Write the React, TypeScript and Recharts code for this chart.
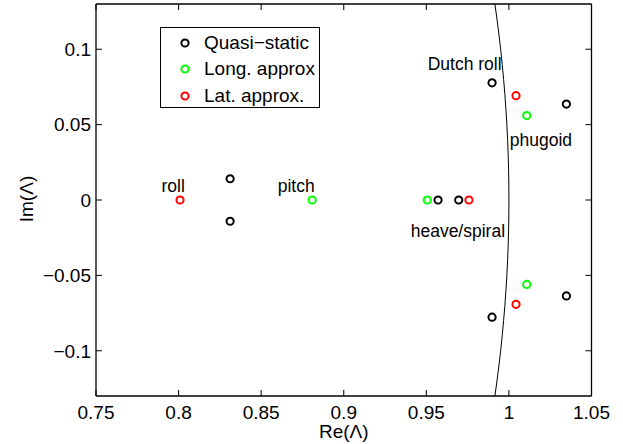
import React from 'react';
import { ScatterChart, Scatter, XAxis, YAxis, Legend, Label } from 'recharts';

// Eigenvalue data (Re, Im)
const quasiStatic = [
  { x: 0.9898, y: 0.0777 },
  { x: 0.9898, y: -0.0777 },
  { x: 1.0348, y: 0.0636 },
  { x: 1.0348, y: -0.0636 },
  { x: 0.8312, y: 0.0141 },
  { x: 0.8312, y: -0.0141 },
  { x: 0.9571, y: 0 },
  { x: 0.9696, y: 0 },
];
const longApprox = [
  { x: 1.0108, y: 0.0560 },
  { x: 1.0108, y: -0.0560 },
  { x: 0.8809, y: 0 },
  { x: 0.9506, y: 0 },
];
const latApprox = [
  { x: 0.8009, y: 0 },
  { x: 0.9758, y: 0 },
  { x: 1.0043, y: 0.0692 },
  { x: 1.0043, y: -0.0692 },
];
// unit circle arc
const unitArc = [
  { x: 0.99151, y: -0.13 }, { x: 0.99277, y: -0.12 }, { x: 0.99393, y: -0.11 },
  { x: 0.99499, y: -0.10 }, { x: 0.99594, y: -0.09 }, { x: 0.99679, y: -0.08 },
  { x: 0.99755, y: -0.07 }, { x: 0.9982, y: -0.06 }, { x: 0.99875, y: -0.05 },
  { x: 0.9992, y: -0.04 }, { x: 0.99955, y: -0.03 }, { x: 0.9998, y: -0.02 },
  { x: 0.99995, y: -0.01 }, { x: 1.0, y: 0 }, { x: 0.99995, y: 0.01 },
  { x: 0.9998, y: 0.02 }, { x: 0.99955, y: 0.03 }, { x: 0.9992, y: 0.04 },
  { x: 0.99875, y: 0.05 }, { x: 0.9982, y: 0.06 }, { x: 0.99755, y: 0.07 },
  { x: 0.99679, y: 0.08 }, { x: 0.99594, y: 0.09 }, { x: 0.99499, y: 0.10 },
  { x: 0.99393, y: 0.11 }, { x: 0.99277, y: 0.12 }, { x: 0.99151, y: 0.13 },
];
const annotations = [
  { x: 0.7967, y: 0.0055, label: 'roll' },
  { x: 0.8712, y: 0.0053, label: 'pitch' },
  { x: 0.9732, y: 0.0861, label: 'Dutch roll' },
  { x: 1.0194, y: 0.036, label: 'phugoid' },
  { x: 0.9691, y: -0.0243, label: 'heave/spiral' },
];
const xTicks = [0.75, 0.8, 0.85, 0.9, 0.95, 1, 1.05];
const yTicks = [-0.1, -0.05, 0, 0.05, 0.1];
const legendItems = [
  { name: 'Quasi\u2212static', color: '#000000' },
  { name: 'Long. approx', color: '#00ff00' },
  { name: 'Lat. approx.', color: '#ff0000' },
];

const FONT = '"Liberation Sans", Arial, Helvetica, sans-serif';
const TICK_LEN = 6;
const X_MARGIN = 10;
const Y_MARGIN = 6;

const ring = (color: string) => (props: any) => (
  <circle cx={props.cx} cy={props.cy} r={3.6} fill="none" stroke={color} strokeWidth={2} />
);

const noShape = () => <g />;

const textShape = (props: any) => (
  <text x={props.cx} y={props.cy} textAnchor="middle" fontFamily={FONT} fontSize={17.5} fill="#000">
    {props.payload.label}
  </text>
);

const fmt = (v: number) => String(v).replace('-', '\u2212');

const BottomTick = (props: any) => {
  const { x, y, payload } = props;
  const axisY = y - X_MARGIN;
  return (
    <g>
      <line x1={x} x2={x} y1={axisY} y2={axisY - TICK_LEN} stroke="#000" strokeWidth={1} />
      <text x={x} y={axisY + 22.8} textAnchor="middle" fontFamily={FONT} fontSize={19} fill="#000">
        {fmt(payload.value)}
      </text>
    </g>
  );
};

const TopTick = (props: any) => {
  const { x, y } = props;
  return <line x1={x} x2={x} y1={y} y2={y + TICK_LEN} stroke="#000" strokeWidth={1} />;
};

const LeftTick = (props: any) => {
  const { x, y, payload } = props;
  const axisX = x + Y_MARGIN;
  return (
    <g>
      <line x1={axisX} x2={axisX + TICK_LEN} y1={y} y2={y} stroke="#000" strokeWidth={1} />
      <text x={axisX - 5} y={y + 6.8} textAnchor="end" fontFamily={FONT} fontSize={19} fill="#000">
        {fmt(payload.value)}
      </text>
    </g>
  );
};

const RightTick = (props: any) => {
  const { x, y } = props;
  return <line x1={x} x2={x - TICK_LEN} y1={y} y2={y} stroke="#000" strokeWidth={1} />;
};

const renderLegend = () => (
  <div
    style={{
      width: 160,
      height: 81,
      border: '1.3px solid #000',
      background: '#fff',
      position: 'relative',
      fontFamily: FONT,
      fontSize: 19,
      color: '#000',
      boxSizing: 'border-box',
    }}
  >
    {legendItems.map((it, i) => (
      <div key={it.name} style={{ position: 'absolute', left: 0, top: 4 + i * 26.3, height: 22, width: 160 }}>
        <svg width={40} height={22} style={{ position: 'absolute', left: 0, top: 0 }}>
          <circle cx={24} cy={11} r={3.6} fill="none" stroke={it.color} strokeWidth={2} />
        </svg>
        <span style={{ position: 'absolute', left: 43, top: 0, lineHeight: '22px', whiteSpace: 'nowrap' }}>
          {it.name}
        </span>
      </div>
    ))}
  </div>
);

const yLabel = (props: any) => {
  const vb = props.viewBox;
  const x = vb.x + 33;
  const y = vb.y + vb.height / 2 - 1;
  return (
    <text x={x} y={y} transform={`rotate(-90, ${x}, ${y})`} textAnchor="middle" fontFamily={FONT} fontSize={19} fill="#000">
      Im(Λ)
    </text>
  );
};

export default function App() {
  return (
    <div style={{ position: 'absolute', left: 0, top: 0, background: '#fff' }}>
      <ScatterChart width={623} height={444} margin={{ top: 3, right: 30.5, bottom: 0, left: 0 }}>
        <XAxis
          xAxisId={0}
          type="number"
          dataKey="x"
          domain={[0.75, 1.05]}
          ticks={xTicks}
          allowDataOverflow
          height={48}
          tickSize={0}
          tickMargin={X_MARGIN}
          interval={0}
          stroke="#000"
          strokeWidth={1.3}
          tickLine={false}
          tick={BottomTick}
        >
          <Label value="Re(Λ)" position="insideBottom" offset={6} fill="#000" fontSize={19} fontFamily={FONT} />
        </XAxis>
        <XAxis
          xAxisId="top"
          orientation="top"
          type="number"
          dataKey="x"
          domain={[0.75, 1.05]}
          ticks={xTicks}
          allowDataOverflow
          height={1}
          tickSize={0}
          tickMargin={0}
          interval={0}
          stroke="#000"
          strokeWidth={1.3}
          tickLine={false}
          tick={TopTick}
        />
        <YAxis
          yAxisId={0}
          type="number"
          dataKey="y"
          domain={[-0.13, 0.13]}
          ticks={yTicks}
          allowDataOverflow
          width={96}
          tickSize={0}
          tickMargin={Y_MARGIN}
          interval={0}
          stroke="#000"
          strokeWidth={1.3}
          tickLine={false}
          tick={LeftTick}
        >
          <Label content={yLabel} />
        </YAxis>
        <YAxis
          yAxisId="right"
          orientation="right"
          type="number"
          dataKey="y"
          domain={[-0.13, 0.13]}
          ticks={yTicks}
          allowDataOverflow
          width={1}
          tickSize={0}
          tickMargin={0}
          interval={0}
          stroke="#000"
          strokeWidth={1.3}
          tickLine={false}
          tick={RightTick}
        />
        <Scatter name="frame" data={[]} xAxisId="top" yAxisId="right" shape={noShape} isAnimationActive={false} legendType="none" />
        <Scatter
          name="arc"
          data={unitArc}
          line={{ stroke: '#000', strokeWidth: 1 }}
          shape={noShape}
          isAnimationActive={false}
          legendType="none"
        />
        <Scatter name="Quasi-static" data={quasiStatic} shape={ring('#000000')} isAnimationActive={false} />
        <Scatter name="Long. approx" data={longApprox} shape={ring('#00ff00')} isAnimationActive={false} />
        <Scatter name="Lat. approx." data={latApprox} shape={ring('#ff0000')} isAnimationActive={false} />
        <Scatter name="labels" data={annotations} shape={textShape} isAnimationActive={false} legendType="none" />
        <Legend
          layout="vertical"
          align="center"
          verticalAlign="middle"
          content={renderLegend}
          wrapperStyle={{ left: 160, top: 27, width: 162, height: 83 }}
        />
      </ScatterChart>
    </div>
  );
}
